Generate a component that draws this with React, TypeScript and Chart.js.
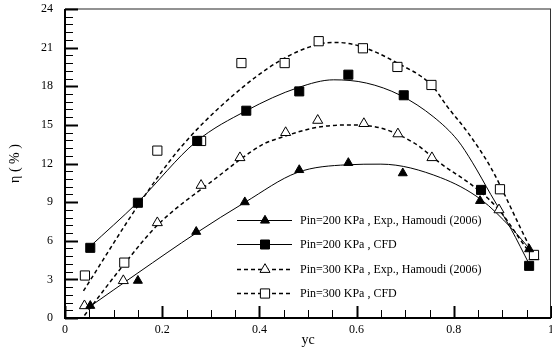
import React, { useEffect, useRef } from "react";
import { Chart, registerables } from "chart.js";

Chart.register(...registerables);

// Measured points
const exp200X = [0.052, 0.15, 0.27, 0.37, 0.482, 0.583, 0.695, 0.854, 0.955];
const exp200Y = [0.95, 2.9, 6.7, 9.0, 11.5, 12.05, 11.25, 9.1, 5.35];
const cfd200X = [0.052, 0.15, 0.272, 0.373, 0.482, 0.583, 0.697, 0.856, 0.955];
const cfd200Y = [5.45, 8.95, 13.75, 16.1, 17.6, 18.9, 17.3, 9.95, 4.05];
const exp300X = [0.04, 0.12, 0.19, 0.28, 0.36, 0.454, 0.52, 0.615, 0.685, 0.755, 0.893, 0.965];
const exp300Y = [0.95, 2.9, 7.4, 10.3, 12.45, 14.4, 15.35, 15.1, 14.3, 12.45, 8.4, 4.75];
const cfd300X = [0.041, 0.122, 0.19, 0.28, 0.363, 0.452, 0.522, 0.613, 0.684, 0.754, 0.895, 0.965];
const cfd300Y = [3.3, 4.3, 13.0, 13.75, 19.8, 19.8, 21.5, 20.95, 19.5, 18.1, 10.0, 4.9];

// Fitted curves
const fit200ExpX = [0.048, 0.15, 0.27, 0.371, 0.478, 0.58, 0.65, 0.773, 0.856, 0.918, 0.96];
const fit200ExpY = [0.8, 3.5, 6.6, 9.0, 11.3, 11.9, 11.95, 10.9, 9.2, 7.0, 5.2];
const fit200CfdX = [0.05, 0.15, 0.27, 0.373, 0.48, 0.553, 0.62, 0.69, 0.759, 0.808, 0.838, 0.876, 0.918, 0.955];
const fit200CfdY = [5.5, 9.0, 13.7, 16.1, 17.9, 18.5, 18.25, 17.3, 15.6, 13.8, 12.1, 9.6, 6.9, 4.2];
const fit300ExpX = [0.04, 0.12, 0.19, 0.305, 0.408, 0.443, 0.511, 0.58, 0.65, 0.718, 0.773, 0.85, 0.893, 0.948, 0.963];
const fit300ExpY = [0.2, 4.1, 7.2, 10.7, 13.5, 14.0, 14.75, 15.0, 14.75, 13.6, 12.0, 9.95, 8.4, 5.5, 4.8];
const fit300CfdX = [0.038, 0.155, 0.237, 0.34, 0.443, 0.526, 0.56, 0.608, 0.684, 0.754, 0.787, 0.829, 0.876, 0.903, 0.932, 0.959];
const fit300CfdY = [2.1, 9.0, 13.2, 17.1, 20.0, 21.3, 21.4, 21.1, 19.8, 18.1, 16.4, 14.4, 11.7, 9.7, 7.4, 5.3];

const xTickLabels = ["0", "0.2", "0.4", "0.6", "0.8", "1"];

const legendLabels = [
  "Pin=200 KPa , Exp., Hamoudi (2006)",
  "Pin=200 KPa , CFD",
  "Pin=300 KPa , Exp., Hamoudi (2006)",
  "Pin=300 KPa , CFD",
];

const xTitle = "yc";
const yTitle = "η ( % )";

const FONT = "'Liberation Serif', 'Times New Roman', serif";

const toXY = (xs: number[], ys: number[]) => xs.map((x, i) => ({ x, y: ys[i] }));

function drawMarker(ctx: CanvasRenderingContext2D, kind: string, filled: boolean, x: number, y: number) {
  ctx.save();
  ctx.beginPath();
  if (kind === "triangle") {
    const r = filled ? 5.2 : 5.8;
    const w = r * Math.sqrt(3);
    ctx.moveTo(x, y - r);
    ctx.lineTo(x + w / 2, y + r / 2);
    ctx.lineTo(x - w / 2, y + r / 2);
    ctx.closePath();
  } else {
    const s = filled ? 4.5 : 4.6;
    ctx.rect(x - s, y - s, 2 * s, 2 * s);
  }
  ctx.fillStyle = filled ? "#000" : "#fff";
  ctx.fill();
  ctx.lineWidth = 1;
  ctx.strokeStyle = "#000";
  ctx.stroke();
  ctx.restore();
}

const framePlugin = {
  id: "frame",
  afterDatasetsDraw(chart: any) {
    const { ctx, chartArea } = chart;
    const { left, right, top, bottom } = chartArea;
    const xs = chart.scales.x;
    const ys = chart.scales.y;
    ctx.save();
    ctx.strokeStyle = "#6e6e6e";
    ctx.lineWidth = 1.5;
    ctx.beginPath();
    ctx.moveTo(left, top);
    ctx.lineTo(right, top);
    ctx.stroke();
    ctx.strokeStyle = "#333";
    ctx.lineWidth = 1;
    ctx.beginPath();
    ctx.moveTo(right - 0.5, top);
    ctx.lineTo(right - 0.5, bottom);
    ctx.stroke();

    ctx.strokeStyle = "#000";
    for (let k = 0; k <= 40; k++) {
      const v = k * 0.6;
      const py = Math.round(ys.getPixelForValue(v)) + 0.5;
      const major = k % 5 === 0;
      ctx.lineWidth = major ? 2 : 1;
      ctx.beginPath();
      ctx.moveTo(left, py);
      ctx.lineTo(left + (major ? 13 : 8), py);
      ctx.stroke();
    }
    for (let k = 0; k <= 20; k++) {
      const v = k * 0.05;
      const px = Math.round(xs.getPixelForValue(v)) + 0.5;
      const major = k % 4 === 0;
      ctx.lineWidth = major ? 2 : 1;
      ctx.beginPath();
      ctx.moveTo(px, bottom);
      ctx.lineTo(px, bottom - (major ? 12 : 8));
      ctx.stroke();
    }
    ctx.lineWidth = 2;
    ctx.beginPath();
    ctx.moveTo(left, top);
    ctx.lineTo(left, bottom);
    ctx.lineTo(right, bottom);
    ctx.stroke();
    ctx.restore();
  },
  afterDraw(chart: any) {
    const { ctx } = chart;
    const rows = [220, 244, 269, 293];
    const styles = [
      { dash: [] as number[], kind: "triangle", filled: true },
      { dash: [] as number[], kind: "rect", filled: true },
      { dash: [4, 3], kind: "triangle", filled: false },
      { dash: [4, 3], kind: "rect", filled: false },
    ];
    ctx.save();
    rows.forEach((ry, i) => {
      const st = styles[i];
      ctx.strokeStyle = "#000";
      ctx.lineWidth = st.dash.length ? 1.5 : 1;
      ctx.setLineDash(st.dash);
      ctx.beginPath();
      ctx.moveTo(237, ry + 0.5);
      ctx.lineTo(292, ry + 0.5);
      ctx.stroke();
      ctx.setLineDash([]);
      drawMarker(ctx, st.kind, st.filled, 265, ry + 0.5);
      ctx.fillStyle = "#000";
      ctx.font = `12px ${FONT}`;
      ctx.textAlign = "left";
      ctx.textBaseline = "middle";
      ctx.fillText(legendLabels[i], 300, ry + 1);
    });
    ctx.restore();
  },
};

export default function App() {
  const ref = useRef<HTMLCanvasElement | null>(null);
  useEffect(() => {
    if (!ref.current) return;
    const curve = (xs: number[], ys: number[], dashed: boolean, order: number) => ({
      data: toXY(xs, ys),
      showLine: true,
      borderColor: "#000",
      borderWidth: dashed ? 1.5 : 1,
      borderDash: dashed ? [4, 3] : [],
      pointRadius: 0,
      cubicInterpolationMode: "monotone",
      fill: false,
      order,
    });
    const pts = (xs: number[], ys: number[], style: string, filled: boolean, radius: number, order: number) => ({
      data: toXY(xs, ys),
      showLine: false,
      pointStyle: style,
      pointRadius: radius,
      pointBackgroundColor: filled ? "#000" : "#fff",
      pointBorderColor: "#000",
      pointBorderWidth: 1,
      order,
    });
    const chart = new Chart(ref.current, {
      type: "scatter",
      data: {
        datasets: [
          curve(fit200ExpX, fit200ExpY, false, 10),
          curve(fit200CfdX, fit200CfdY, false, 10),
          curve(fit300ExpX, fit300ExpY, true, 10),
          curve(fit300CfdX, fit300CfdY, true, 10),
          pts(exp300X, exp300Y, "triangle", false, 5.8, 4),
          pts(cfd300X, cfd300Y, "rect", false, 6.5, 3),
          pts(exp200X, exp200Y, "triangle", true, 5.2, 2),
          pts(cfd200X, cfd200Y, "rect", true, 6.4, 1),
        ] as any,
      },
      options: {
        animation: false,
        responsive: false,
        maintainAspectRatio: false,
        layout: { autoPadding: false, padding: { top: 9, right: 1, left: 0, bottom: 0 } },
        plugins: { legend: { display: false }, tooltip: { enabled: false } },
        scales: {
          x: {
            type: "linear",
            min: 0,
            max: 1,
            grid: { display: false, drawTicks: false },
            border: { display: false },
            ticks: {
              stepSize: 0.2,
              color: "#000",
              font: { family: FONT, size: 12 },
              padding: 5,
              callback: (_v: any, i: number) => xTickLabels[i],
            },
            title: { display: true, text: xTitle, color: "#000", font: { family: FONT, size: 14 }, padding: { top: 0, bottom: 7 } },
            afterFit: (s: any) => {
              s.height = 38;
              s.paddingLeft = 0;
              s.paddingRight = 0;
            },
          },
          y: {
            type: "linear",
            min: 0,
            max: 24,
            grid: { display: false, drawTicks: false },
            border: { display: false },
            ticks: { stepSize: 3, color: "#000", font: { family: FONT, size: 12 }, padding: 12 },
            title: { display: true, text: yTitle, color: "#000", font: { family: FONT, size: 14 }, padding: { top: 7, bottom: 0 } },
            afterFit: (s: any) => {
              s.width = 65;
              s.paddingTop = 0;
              s.paddingBottom = 0;
            },
          },
        },
      } as any,
      plugins: [framePlugin],
    });
    return () => chart.destroy();
  }, []);
  return (
    <div style={{ position: "fixed", left: 0, top: 0, width: 552, height: 356, background: "#fff" }}>
      <canvas ref={ref} width={552} height={356} style={{ display: "block" }} />
    </div>
  );
}
